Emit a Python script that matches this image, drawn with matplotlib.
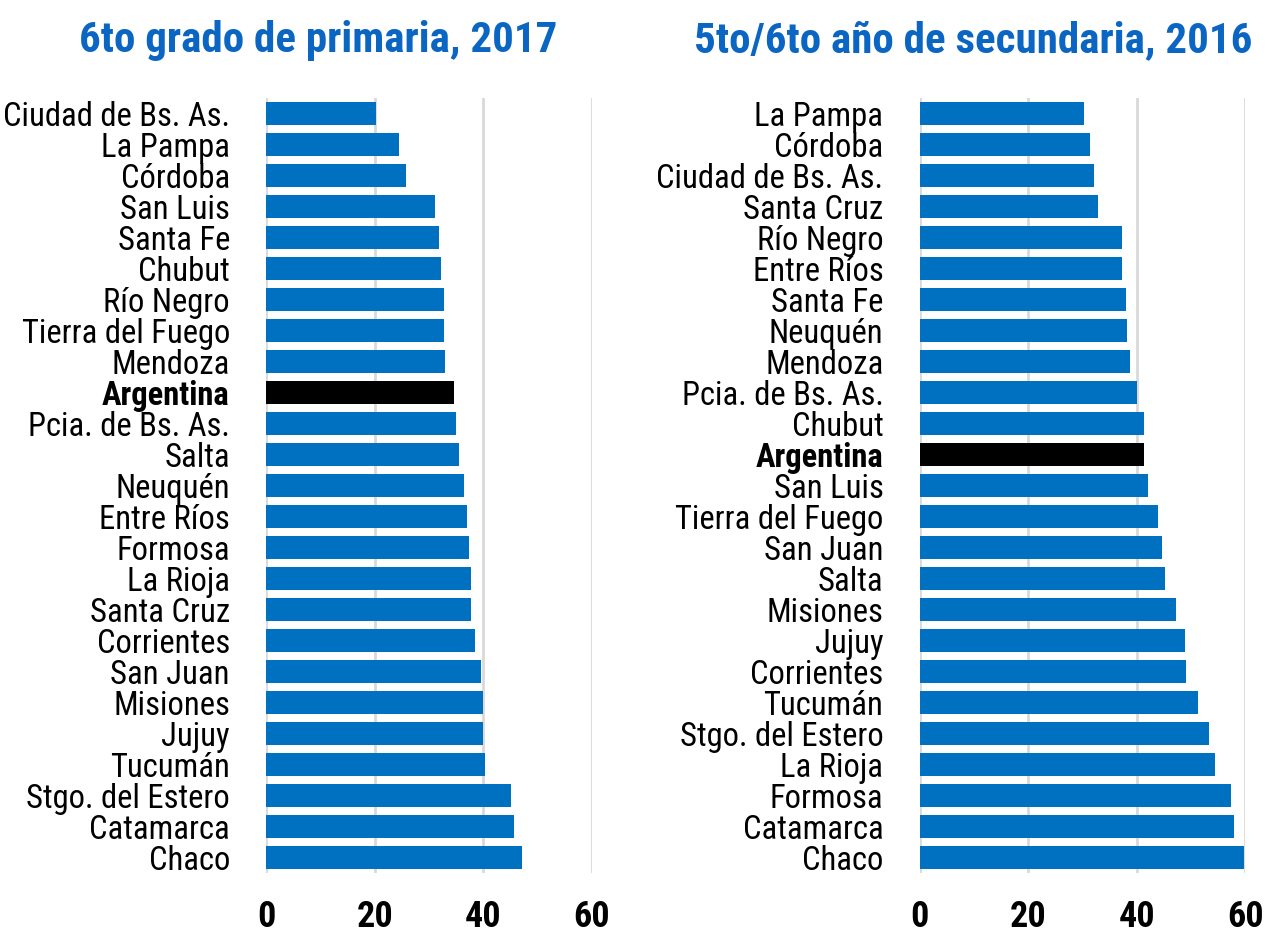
import matplotlib
matplotlib.use("Agg")
import matplotlib.pyplot as plt
from matplotlib import font_manager as fm

# ---------------- data ----------------
prim_labels = ["Ciudad de Bs. As.", "La Pampa", "Córdoba", "San Luis", "Santa Fe", "Chubut",
               "Río Negro", "Tierra del Fuego", "Mendoza", "Argentina", "Pcia. de Bs. As.",
               "Salta", "Neuquén", "Entre Ríos", "Formosa", "La Rioja", "Santa Cruz",
               "Corrientes", "San Juan", "Misiones", "Jujuy", "Tucumán", "Stgo. del Estero",
               "Catamarca", "Chaco"]
prim_values = [20.3, 24.5, 25.8, 31.1, 31.9, 32.3, 32.7, 32.8, 33.0, 34.6, 34.9, 35.5, 36.5,
               37.0, 37.4, 37.7, 37.8, 38.4, 39.5, 39.9, 40.0, 40.3, 45.1, 45.7, 47.1]

sec_labels = ["La Pampa", "Córdoba", "Ciudad de Bs. As.", "Santa Cruz", "Río Negro",
              "Entre Ríos", "Santa Fe", "Neuquén", "Mendoza", "Pcia. de Bs. As.", "Chubut",
              "Argentina", "San Luis", "Tierra del Fuego", "San Juan", "Salta", "Misiones",
              "Jujuy", "Corrientes", "Tucumán", "Stgo. del Estero", "La Rioja", "Formosa",
              "Catamarca", "Chaco"]
sec_values = [30.3, 31.4, 32.1, 32.8, 37.3, 37.3, 38.0, 38.1, 38.7, 40.1, 41.3, 41.3, 42.1,
              43.9, 44.7, 45.2, 47.3, 48.8, 49.0, 51.3, 53.2, 54.4, 57.4, 57.9, 59.7]

titles = ["6to grado de primaria, 2017", "5to/6to año de secundaria, 2016"]
x_ticks = [0, 20, 40, 60]
highlight = "Argentina"

# ---------------- fonts ----------------
available = {f.name for f in fm.fontManager.ttflist}
narrow = None
for cand in ["Roboto Condensed", "Liberation Sans Narrow", "Open Sans Condensed",
             "DejaVu Sans Condensed", "Noto Sans Condensed", "Arial Narrow"]:
    if cand in available:
        narrow = cand
        break
if narrow is None:
    narrow = "DejaVu Sans"
plt.rcParams["font.family"] = [narrow, "DejaVu Sans"]

BLUE = "#0070C0"
TITLE_BLUE = "#0A66C2"
GRID = "#D9D9D9"

fig = plt.figure(figsize=(12.66, 9.38), dpi=100)
axes_pos = [[266 / 1266, 65 / 938, 326 / 1266, 775 / 938],
            [919.5 / 1266, 65 / 938, 326 / 1266, 775 / 938]]
title_x = [318 / 1266, 973 / 1266]

for i, (labels, values) in enumerate([(prim_labels, prim_values), (sec_labels, sec_values)]):
    ax = fig.add_axes(axes_pos[i])
    n = len(labels)
    ypos = list(range(n))
    colors = ["black" if l == highlight else BLUE for l in labels]
    ax.barh(ypos, values, height=0.74, color=colors, zorder=3)
    ax.set_ylim(n - 0.5, -0.5)
    ax.set_xlim(0, 60)
    ax.set_xticks(x_ticks)
    ax.set_xticklabels([str(t) for t in x_ticks], fontsize=26, fontweight="bold")
    ax.set_yticks(ypos)
    ax.set_yticklabels(labels, fontsize=23.5)
    for tl in ax.get_yticklabels():
        if tl.get_text() == highlight:
            tl.set_fontweight("bold")
    ax.tick_params(axis="both", length=0)
    ax.tick_params(axis="x", pad=19)
    ax.tick_params(axis="y", pad=26)
    for s in ax.spines.values():
        s.set_visible(False)
    ax.grid(axis="x", color=GRID, linewidth=2, zorder=0)
    ax.set_axisbelow(True)
    fig.text(title_x[i], 1 - 52 / 938, titles[i], ha="center", va="baseline",
             fontsize=31, fontweight="bold", color=TITLE_BLUE)

fig.savefig("out.png", dpi=100)
